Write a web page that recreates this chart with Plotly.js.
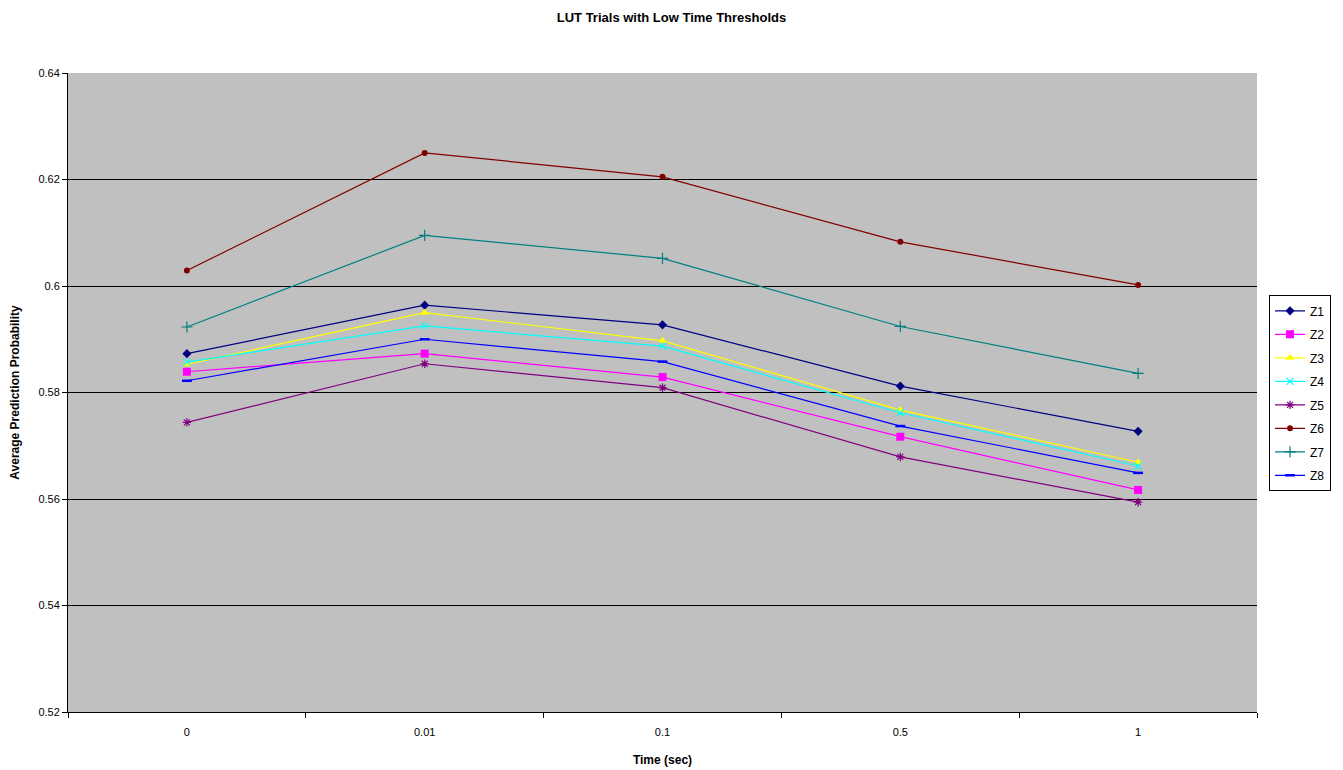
<!DOCTYPE html>
<html>
<head>
<meta charset="utf-8">
<script src="https://cdn.plot.ly/plotly-3.0.1.min.js"></script>
<style>html,body{margin:0;padding:0;background:#fff}#chart{width:1343px;height:770px}</style>
</head>
<body>
<div id="chart"></div>
<script>
const categories = ["0", "0.01", "0.1", "0.5", "1"];
const seriesNames = ["Z1", "Z2", "Z3", "Z4", "Z5", "Z6", "Z7", "Z8"];
const Z1 = [0.5873, 0.5964, 0.5927, 0.5812, 0.5727];
const Z2 = [0.5839, 0.5873, 0.5829, 0.5717, 0.5617];
const Z3 = [0.5853, 0.5950, 0.5897, 0.5767, 0.5669];
const Z4 = [0.5857, 0.5925, 0.5887, 0.5762, 0.5662];
const Z5 = [0.5744, 0.5854, 0.5809, 0.5679, 0.5594];
const Z6 = [0.6029, 0.6250, 0.6205, 0.6083, 0.6002];
const Z7 = [0.5923, 0.6095, 0.6052, 0.5924, 0.5836];
const Z8 = [0.5822, 0.5900, 0.5858, 0.5737, 0.5649];
const yTicks = [0.52, 0.54, 0.56, 0.58, 0.6, 0.62, 0.64];
const yTickText = ["0.52", "0.54", "0.56", "0.58", "0.6", "0.62", "0.64"];

const values = [Z1, Z2, Z3, Z4, Z5, Z6, Z7, Z8];
const colors = ["#000080", "#FF00FF", "#FFFF00", "#00FFFF", "#800080", "#800000", "#008080", "#0000FF"];
const symbols = ["diamond", "square", "triangle-up", "x-thin-open", "asterisk-open", "circle", "cross-thin-open", "line-ew-open"];
const sizes = [7, 8, 8, 7, 7, 6, 8, 7];
const lineW = [0, 0, 0, 1.2, 1.2, 0, 1.2, 2.5];

const font = "Liberation Sans, Arial, sans-serif";
const traces = values.map((v, i) => ({
  type: "scatter",
  mode: "lines+markers",
  name: seriesNames[i],
  legendgroup: seriesNames[i],
  x: categories,
  y: v,
  line: {color: colors[i], width: 1.2},
  marker: {symbol: symbols[i], size: sizes[i], color: colors[i], line: {color: colors[i], width: lineW[i]}}
}));

const layout = {
  width: 1343, height: 770,
  margin: {l: 68, r: 83, t: 73, b: 58},
  paper_bgcolor: "#ffffff",
  plot_bgcolor: "#c0c0c0",
  font: {family: font, size: 11, color: "#000"},
  title: {text: "LUT Trials with Low Time Thresholds", font: {family: font, size: 13, weight: "bold", color: "#000"}, x: 0.5, xanchor: "center", y: 0.977, yanchor: "middle"},
  xaxis: {
    type: "category", range: [-0.5, 4.5], tickson: "boundaries",
    ticks: "outside", ticklen: 5, tickcolor: "#000",
    showline: true, linecolor: "#000", linewidth: 1, mirror: false,
    showgrid: false, zeroline: false,
    ticklabelstandoff: 10,
    tickfont: {family: font, size: 11},
    title: {text: "Time (sec)", font: {family: font, size: 12, weight: "bold"}, standoff: 18}
  },
  yaxis: {
    range: [0.52, 0.64], tickvals: yTicks, ticktext: yTickText,
    ticks: "outside", ticklen: 5, tickcolor: "#000",
    showline: true, linecolor: "#000", linewidth: 1,
    showgrid: true, gridcolor: "#000", gridwidth: 1, zeroline: false,
    tickfont: {family: font, size: 11},
    title: {text: "Average Prediction Probability", font: {family: font, size: 12, weight: "bold"}, standoff: 16}
  },
  showlegend: true,
  legend: {
    x: 1.0101, xanchor: "left", y: 0.652, yanchor: "top",
    bgcolor: "#ffffff", bordercolor: "#000", borderwidth: 1,
    font: {family: font, size: 12}, itemwidth: 30, tracegroupgap: 4.5
  }
};

Plotly.newPlot("chart", traces, layout, {displayModeBar: false, staticPlot: true});
</script>
</body>
</html>
